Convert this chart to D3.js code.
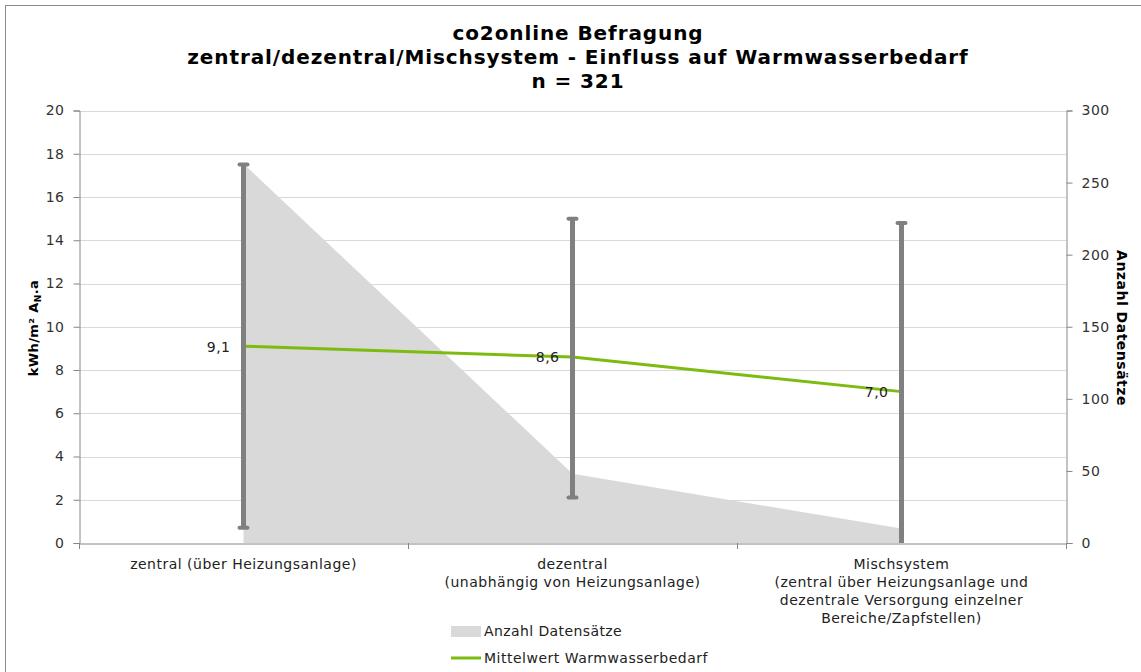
<!DOCTYPE html>
<html><head><meta charset="utf-8">
<script src="https://cdn.jsdelivr.net/npm/d3@7"></script>
<style>body{margin:0;background:#fff}svg{display:block}text{font-family:"DejaVu Sans",Verdana,sans-serif}</style>
</head><body>
<script>
const categories = [
  ["zentral (über Heizungsanlage)"],
  ["dezentral", "(unabhängig von Heizungsanlage)"],
  ["Mischsystem", "(zentral über Heizungsanlage und", "dezentrale Versorgung einzelner", "Bereiche/Zapfstellen)"]
];
const countValues = [263, 48, 10];
const meanValues = [9.1, 8.6, 7.0];
const meanLabels = ["9,1", "8,6", "7,0"];
const errLow = [0.7, 2.1, 0.0];
const errHigh = [17.5, 15.0, 14.8];
const leftTicks = [0, 2, 4, 6, 8, 10, 12, 14, 16, 18, 20];
const rightTicks = [0, 50, 100, 150, 200, 250, 300];
const titleLines = ["co2online Befragung", "zentral/dezentral/Mischsystem - Einfluss auf Warmwasserbedarf", "n = 321"];

const W = 1141, H = 672;
const L = 79, R = 1066, T = 110.5, B = 543;
const svg = d3.select("body").append("svg").attr("width", W).attr("height", H);
svg.append("rect").attr("x", 5.5).attr("y", 5.5).attr("width", 1140).attr("height", 670)
  .attr("fill", "#fff").attr("stroke", "#8c8c8c").attr("stroke-width", 1);

const idx = categories.map((d, i) => i);
const x = d3.scaleBand().domain(idx).range([L, R]);
const xc = i => x(i) + x.bandwidth() / 2;
const y = d3.scaleLinear().domain([0, 20]).range([B, T]);
const y2 = d3.scaleLinear().domain([0, 300]).range([B, T]);

// gridlines
svg.append("g").selectAll("line").data(leftTicks.slice(1)).join("line")
  .attr("x1", L).attr("x2", R).attr("y1", d => Math.round(y(d)) + 0.5).attr("y2", d => Math.round(y(d)) + 0.5)
  .attr("stroke", "#d9d9d9");

// area
const area = d3.area().x((d, i) => xc(i)).y0(B).y1(d => y2(d));
svg.append("path").datum(countValues).attr("d", area).attr("fill", "#d9d9d9");

// mean line
const line = d3.line().x((d, i) => xc(i)).y(d => y(d));
svg.append("path").datum(meanValues).attr("d", line).attr("fill", "none")
  .attr("stroke", "#7dbb10").attr("stroke-width", 3);

// error bars
const eg = svg.append("g");
idx.forEach(i => {
  eg.append("line").attr("x1", xc(i)).attr("x2", xc(i)).attr("y1", y(errLow[i])).attr("y2", y(errHigh[i]))
    .attr("stroke", "#808080").attr("stroke-width", 5);
  [errLow[i], errHigh[i]].forEach(v => {
    if (v > 0) eg.append("line").attr("x1", xc(i) - 4).attr("x2", xc(i) + 4).attr("y1", y(v)).attr("y2", y(v))
      .attr("stroke", "#808080").attr("stroke-width", 4).attr("stroke-linecap", "round");
  });
});

// data labels
svg.append("g").selectAll("text").data(meanValues).join("text")
  .attr("x", (d, i) => xc(i) - 13).attr("y", d => y(d)).attr("dy", "0.38em")
  .attr("text-anchor", "end").attr("font-size", 14).attr("letter-spacing", 0.5).attr("fill", "#222").text((d, i) => meanLabels[i]);

// axes
const axL = svg.append("g").attr("transform", `translate(${L + 0.5},0)`)
  .call(d3.axisLeft(y).tickValues(leftTicks).tickSize(6).tickPadding(9));
const axR = svg.append("g").attr("transform", `translate(${R + 0.5},0)`)
  .call(d3.axisRight(y2).tickValues(rightTicks).tickSize(6).tickPadding(9));
const axB = svg.append("g").attr("transform", `translate(0,${B + 0.5})`)
  .call(d3.axisBottom(x).tickSize(0).tickFormat(""));
[axL, axR, axB].forEach(a => {
  a.select(".domain").attr("stroke", "#868686");
  a.selectAll(".tick line").attr("stroke", "#868686");
  a.selectAll(".tick text").attr("font-size", 14).attr("letter-spacing", 0.5).attr("fill", "#333").attr("font-family", "DejaVu Sans, Verdana, sans-serif");
});
// category boundary ticks
svg.append("g").selectAll("line").data(idx.slice(1)).join("line")
  .attr("x1", d => Math.round(x(d)) + 0.5).attr("x2", d => Math.round(x(d)) + 0.5)
  .attr("y1", B).attr("y2", B + 6).attr("stroke", "#868686");
[L, R].forEach(v => svg.append("line").attr("x1", v + 0.5).attr("x2", v + 0.5).attr("y1", B).attr("y2", B + 6).attr("stroke", "#868686"));

// category labels
const cl = svg.append("g");
categories.forEach((lines, i) => {
  const t = cl.append("text").attr("text-anchor", "middle").attr("font-size", 14).attr("letter-spacing", 0.5).attr("fill", "#222");
  lines.forEach((s, j) => t.append("tspan").attr("x", xc(i)).attr("y", 569 + j * 18).text(s));
});

// title
const tt = svg.append("text").attr("text-anchor", "middle").attr("font-size", 20).attr("letter-spacing", 0.9)
  .attr("font-weight", "bold").attr("fill", "#000");
titleLines.forEach((s, j) => tt.append("tspan").attr("x", 578).attr("y", 40 + j * 24).text(s));

// axis titles
const yl = svg.append("text").attr("transform", "translate(38,328) rotate(-90)").attr("text-anchor", "middle")
  .attr("font-size", 13).attr("letter-spacing", 0.4).attr("font-weight", "bold").attr("fill", "#000");
yl.append("tspan").text("kWh/m² A");
yl.append("tspan").attr("font-size", 9).attr("dy", 3).text("N");
yl.append("tspan").attr("dy", -3).text(".a");
svg.append("text").attr("transform", "translate(1117,328) rotate(90)").attr("text-anchor", "middle")
  .attr("font-size", 14).attr("letter-spacing", 0.5).attr("font-weight", "bold").attr("fill", "#000").text("Anzahl Datensätze");

// legend
const lg = svg.append("g");
lg.append("rect").attr("x", 451).attr("y", 626).attr("width", 30).attr("height", 11).attr("fill", "#d9d9d9");
lg.append("text").attr("x", 484).attr("y", 631).attr("dy", "0.35em").attr("font-size", 14).attr("letter-spacing", 0.4).attr("fill", "#222").text("Anzahl Datensätze");
lg.append("line").attr("x1", 451).attr("x2", 481).attr("y1", 658).attr("y2", 658).attr("stroke", "#7dbb10").attr("stroke-width", 3);
lg.append("text").attr("x", 484).attr("y", 658).attr("dy", "0.35em").attr("font-size", 14).attr("letter-spacing", 0.5).attr("fill", "#222").text("Mittelwert Warmwasserbedarf");
</script>
</body></html>
